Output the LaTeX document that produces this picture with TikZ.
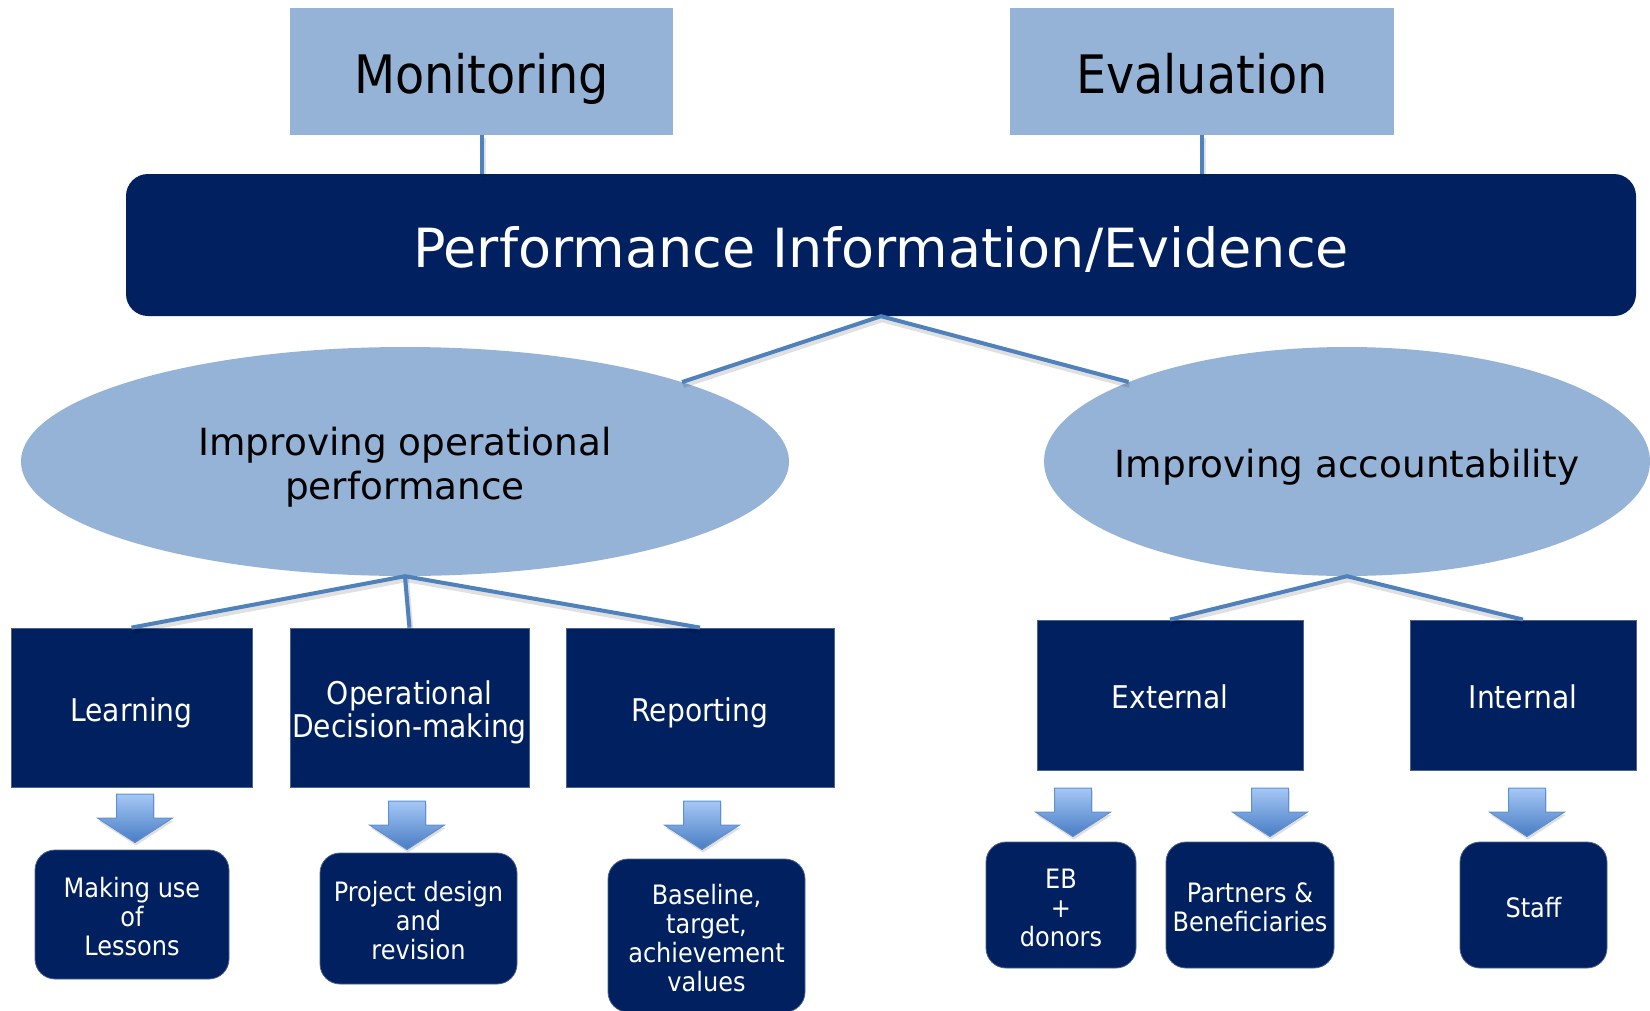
\documentclass[tikz,border=0pt]{standalone}
\usepackage{fontspec}
\setmainfont{DejaVu Sans}
\newfontfamily\condfont{DejaVu Sans Condensed}
\usetikzlibrary{shapes.geometric,shadows,calc}
\definecolor{navy}{RGB}{0,32,96}
\definecolor{lightb}{RGB}{149,179,215}
\definecolor{linkb}{RGB}{79,129,189}
\definecolor{arrtop}{RGB}{165,200,245}
\definecolor{arrbot}{RGB}{72,124,196}
\definecolor{arredge}{RGB}{95,145,210}
\begin{document}
\begin{tikzpicture}[x=1pt,y=-1pt,
  topbox/.style={fill=lightb, inner sep=0, minimum width=#1, minimum height=127,
    font=\condfont\fontsize{53}{62}\selectfont, text height=43.6, text depth=0},
  perfbox/.style={fill=navy, text=white, rounded corners=22, inner sep=0,
    minimum width=1510, minimum height=142, font=\fontsize{54}{62}\selectfont,
    text height=45.4, text depth=0},
  goal/.style={ellipse, fill=lightb, inner sep=0, minimum width=#1, minimum height=229,
    align=center, font=\fontsize{37.4}{43.5}\selectfont, text depth=0},
  midbox/.style={fill=navy, draw=navy!70!white, line width=0.8, text=white, inner sep=0,
    minimum width=#1, align=center, font=\condfont\fontsize{31.3}{33}\selectfont,
    text depth=0},
  leafbox/.style={fill=navy, draw=navy!70!white, line width=0.8, text=white, inner sep=0,
    rounded corners=20, minimum width=#1, align=center,
    font=\condfont\fontsize{26.7}{29}\selectfont, text depth=0},
  link/.style={draw=linkb, line width=4,
    preaction={draw=black, opacity=0.12, line width=6, transform canvas={xshift=1pt,yshift=-3pt}}},
  blockdown/.pic={
    \filldraw[top color=arrtop, bottom color=arrbot, draw=arredge, line width=1,
      drop shadow={opacity=0.25, shadow xshift=1pt, shadow yshift=-3pt}]
      (-18.5,-24) -- (18.5,-24) -- (18.5,0) -- (37.5,0) -- (0,24.5) -- (-37.5,0) -- (-18.5,0) -- cycle;
  }
]
\useasboundingbox (0,0) rectangle (1650,1010);

% top level
\node[topbox=383] (mon) at (481.5,71.5) {Monitoring};
\node[topbox=384] (eva) at (1202,71.5) {Evaluation};
\node[perfbox] (perf) at (881,245) {Performance Information/Evidence};

% goals
\node[goal=768, text height=75.8] (opl) at (405,461.5) {Improving operational\\performance};
\node[goal=606, text height=32.3] (acc) at (1347,461.5) {\makebox[0pt]{Improving accountability}};

% middle boxes
\node[midbox=241, minimum height=159, text height=27.8] (learn) at (131.5,707.5) {Learning};
\node[midbox=239, minimum height=159, text height=60.8] (opdm) at (409.5,707.5) {Operational\\Decision-making};
\node[midbox=268, minimum height=159, text height=27.8] (rep) at (700,707.5) {Reporting};
\node[midbox=266, minimum height=150, text height=27.8] (ext) at (1170,695) {External};
\node[midbox=226, minimum height=150, text height=27.8] (int) at (1523,695) {Internal};

% leaf boxes
\node[leafbox=194, minimum height=129, text height=82.5] (make) at (132,914.5) {Making use\\of\\Lessons};
\node[leafbox=197, minimum height=131, text height=82.5] (proj) at (418.5,918.5) {Project design\\and\\revision};
\node[leafbox=197, minimum height=153, text height=111.5] (base) at (706.5,935.5) {Baseline,\\target,\\achievement\\values};
\node[leafbox=150, minimum height=126, text height=82.5] (eb) at (1061,905) {EB\\+\\donors};
\node[leafbox=168, minimum height=126, text height=53.5] (part) at (1250,905) {Partners \&\\Beneficiaries};
\node[leafbox=147, minimum height=126, text height=24.5] (staff) at (1533.5,905) {Staff};

% connectors
\draw[link] (mon.south) -- (mon.south |- perf.north);
\draw[link] (eva.south) -- (eva.south |- perf.north);
\draw[link] (opl.16) -- (perf.south) -- (acc.160);
\draw[link] (learn.north) -- (opl.south) -- (rep.north);
\draw[link] (opl.south) -- (opdm.north);
\draw[link] (ext.north) -- (acc.south) -- (int.north);

% block arrows
\pic (a1) at (135,818) {blockdown};
\pic (a2) at (407,825) {blockdown};
\pic (a3) at (702,825) {blockdown};
\pic (a4) at (1073,812) {blockdown};
\pic (a5) at (1270,812) {blockdown};
\pic (a6) at (1527,812) {blockdown};
\end{tikzpicture}
\end{document}
